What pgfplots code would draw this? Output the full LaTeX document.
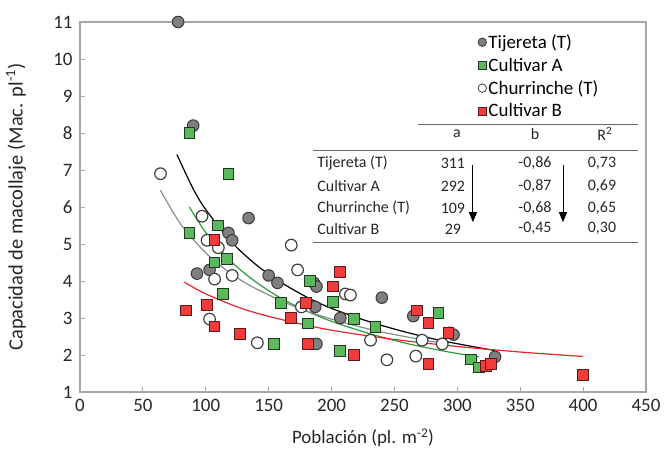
\documentclass[border=0pt]{standalone}
\usepackage{pgfplots}
\pgfplotsset{compat=1.18}
\usepackage{fontspec}
\setmainfont{Carlito}
\usetikzlibrary{arrows.meta}
\definecolor{axisgray}{HTML}{A6A6A6}
\definecolor{tijfill}{HTML}{7F7F7F}
\definecolor{tijedge}{HTML}{3A3A3A}
\definecolor{afill}{HTML}{5CB85C}
\definecolor{aedge}{HTML}{1E3A1E}
\definecolor{bfill}{HTML}{F23B3B}
\definecolor{bedge}{HTML}{5A1A1A}
\definecolor{chedge}{HTML}{404040}
\definecolor{agreen}{HTML}{2E9A3A}
\definecolor{bred}{HTML}{E8262B}
\definecolor{chgray}{HTML}{8C8C8C}
\begin{document}
\begin{tikzpicture}
\useasboundingbox (-80bp,-63bp) rectangle (584bp,392bp);
\begin{axis}[
  at={(0,0)}, anchor=south west,
  width=566bp, height=370bp, scale only axis,
  xmin=0, xmax=450, ymin=1, ymax=11,
  xtick={0,50,...,450}, ytick={1,2,...,11},
  axis line style={draw=axisgray, line width=1.3bp},
  tick style={draw=axisgray, line width=0.8bp},
  tick align=inside, major tick length=5bp,
  xtick pos=bottom, ytick pos=left,
  tick label style={font=\fontsize{19}{21}\selectfont, text=black!85},
  xticklabel style={yshift=-4bp},
  yticklabel style={xshift=-4bp},
  /pgf/number format/assume math mode=true,
  xlabel={Población (pl. m\textsuperscript{-2})},
  ylabel={Capacidad de macollaje (Mac. pl\textsuperscript{-1})},
  label style={text=black!85},
  xlabel style={font=\fontsize{19}{21}\selectfont, at={(axis description cs:0.5,-0.124)}, anchor=center},
  ylabel style={font=\fontsize{20.5}{23}\selectfont, at={(axis description cs:-0.113,0.5)}, anchor=center},
  clip=false,
  legend style={at={(axis description cs:0.703,0.972)}, anchor=north west,
    draw=none, fill=none, font=\fontsize{19}{21}\selectfont,
    row sep=4bp, inner sep=0pt},
  legend cell align=left,
]
% legend images
\addlegendimage{only marks, mark=*, mark size=4.2bp, mark options={fill=tijfill, draw=tijedge, line width=0.8bp}}
\addlegendentry{Tijereta (T)}
\addlegendimage{only marks, mark=square*, mark size=4bp, mark options={fill=afill, draw=aedge, line width=0.8bp}}
\addlegendentry{Cultivar A}
\addlegendimage{only marks, mark=o, mark size=4.2bp, mark options={fill=white, draw=chedge, line width=0.8bp}}
\addlegendentry{Churrinche (T)}
\addlegendimage{only marks, mark=square*, mark size=4bp, mark options={fill=bfill, draw=bedge, line width=0.8bp}}
\addlegendentry{Cultivar B}

% Tijereta (T)
\addplot[forget plot, only marks, mark=*, mark size=5.8bp, mark options={fill=tijfill, draw=tijedge, line width=1bp}]
coordinates {(78,11.0)(90,8.2)(93,4.2)(103,4.3)(118,5.3)(121,5.1)(134,5.7)(150,4.15)(157,3.95)(186,3.95)(188,3.85)(187,3.3)(188,2.3)(207,3.0)(240,3.55)(265,3.05)(294,2.6)(297,2.55)(330,1.95)};
% Cultivar A
\addplot[forget plot, only marks, mark=square*, mark size=5.4bp, mark options={fill=afill, draw=aedge, line width=1bp}]
coordinates {(87,8.0)(118,6.9)(87,5.3)(110,5.5)(117,4.6)(107,4.5)(114,3.65)(154,2.3)(160,3.4)(183,4.0)(181,2.85)(201,3.43)(207,2.1)(218,2.97)(235,2.75)(285,3.13)(311,1.88)(317,1.66)};
% Churrinche (T)
\addplot[forget plot, only marks, mark=*, mark size=5.8bp, mark options={fill=white, draw=chedge, line width=1.2bp}]
coordinates {(64,6.9)(97,5.75)(101,5.1)(110,4.9)(107,4.05)(121,4.15)(103,2.97)(141,2.33)(168,4.97)(173,4.3)(176,3.3)(211,3.65)(215,3.62)(231,2.4)(244,1.87)(267,1.97)(272,2.4)(288,2.3)};
% Cultivar B
\addplot[forget plot, only marks, mark=square*, mark size=5.4bp, mark options={fill=bfill, draw=bedge, line width=1bp}]
coordinates {(84,3.2)(101,3.35)(107,5.1)(107,2.77)(127,2.56)(168,3.0)(180,3.4)(181,2.3)(201,3.85)(207,4.25)(218,2.0)(268,3.2)(277,2.87)(293,2.6)(277,1.76)(323,1.7)(327,1.76)(400,1.47)};

% trend lines (power fits from the table)
\addplot[forget plot, no marks, smooth, black, line width=1.2bp]
coordinates {(77,7.42)(90,6.49)(100,5.93)(120,5.07)(140,4.44)(160,3.96)(180,3.57)(200,3.26)(230,2.90)(260,2.61)(290,2.37)(330,2.12)};
\addplot[forget plot, no marks, smooth, agreen, line width=1.2bp]
coordinates {(87,6.00)(100,5.31)(120,4.53)(140,3.97)(160,3.53)(180,3.19)(200,2.91)(230,2.58)(260,2.31)(290,2.10)(317,1.95)};
\addplot[forget plot, no marks, smooth, chgray, line width=1.2bp]
coordinates {(64,6.45)(80,5.54)(100,4.76)(120,4.20)(140,3.79)(170,3.32)(200,2.97)(240,2.62)(288,2.32)};
\addplot[forget plot, no marks, smooth, bred, line width=1.2bp]
coordinates {(83,3.97)(100,3.65)(130,3.24)(160,2.96)(200,2.67)(250,2.42)(300,2.23)(350,2.08)(400,1.96)};

% table
\begin{scope}[font=\fontsize{16}{18}\selectfont, text=black!85]
\draw[black!60, line width=1bp] (axis cs:269,8.22) -- (axis cs:443.6,8.22);
\node at (axis cs:299.7,7.98) {a};
\node at (axis cs:361.7,7.98) {b};
\node at (axis cs:417.3,7.98) {R\textsuperscript{2}};
\draw[black!60, line width=1bp] (axis cs:185,7.54) -- (axis cs:443.6,7.54);
\node[anchor=west] at (axis cs:186,7.19) {Tijereta (T)};
\node[anchor=west] at (axis cs:186,6.57) {Cultivar A};
\node[anchor=west] at (axis cs:186,5.97) {Churrinche (T)};
\node[anchor=west] at (axis cs:186,5.41) {Cultivar B};
\node at (axis cs:296.5,7.19) {311};
\node at (axis cs:296.5,6.57) {292};
\node at (axis cs:296.5,5.97) {109};
\node at (axis cs:296.5,5.41) {29};
\node at (axis cs:361.7,7.19) {-0,86};
\node at (axis cs:361.7,6.57) {-0,87};
\node at (axis cs:361.7,5.97) {-0,68};
\node at (axis cs:361.7,5.41) {-0,45};
\node at (axis cs:415,7.19) {0,73};
\node at (axis cs:415,6.57) {0,69};
\node at (axis cs:415,5.97) {0,65};
\node at (axis cs:415,5.41) {0,30};
\draw[black!60, line width=1bp] (axis cs:185,5.05) -- (axis cs:443.6,5.05);
\draw[black, line width=0.9bp, -{Triangle[width=8bp,length=10bp]}] (axis cs:312.4,7.14) -- (axis cs:312.4,5.59);
\draw[black, line width=0.9bp, -{Triangle[width=8bp,length=10bp]}] (axis cs:384,7.14) -- (axis cs:384,5.59);
\end{scope}
\end{axis}
\end{tikzpicture}
\end{document}
